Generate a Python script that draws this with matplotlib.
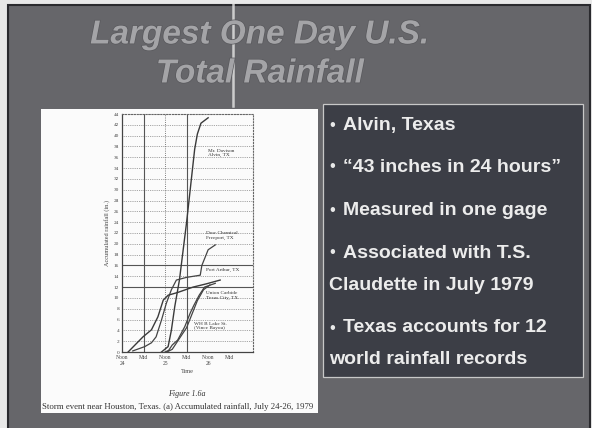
import matplotlib.pyplot as plt
import matplotlib.patheffects as pe
from matplotlib.patches import Rectangle

# accumulated rainfall, hours after noon July 24 vs inches
alvin_h = [22, 25.7, 27.5, 29.4, 32, 36, 39, 40.5, 42, 44, 48]
alvin_in = [0, 1, 4, 8.4, 13.3, 24, 33, 37.5, 40.3, 42.3, 43.3]
dow_h = [6, 12.7, 16.4, 19, 22, 24.7, 27.5, 30.3, 36, 43.6, 44.5, 48, 52]
dow_in = [0.2, 1, 1.7, 2.8, 5.9, 9, 11.5, 13.3, 13.8, 14.2, 16, 18.9, 19.8]
port_h = [3.4, 11.7, 16.4, 20, 23, 25.7, 31, 39.6, 47, 54.7]
port_in = [0, 2.8, 4.1, 6.5, 9.6, 10.5, 11, 12, 12.6, 13.3]
union_h = [24, 26, 28, 31, 35, 38, 40, 43, 46, 52]
union_in = [0, 0.3, 1.3, 2.2, 4.7, 7.2, 8.6, 10.5, 12, 12.7]
lake_h = [25, 28, 30, 33, 36, 39, 42, 45.4, 49]
lake_in = [0, 0.5, 1.5, 3, 4.5, 7, 9.5, 11.5, 12.4]

station_names = ["Mr. Davison\nAlvin, TX", "Dow Chemical\nFreeport, TX", "Port Arthur, TX",
                 "Union Carbide\nTexas City, TX", "WH B Lake St.\n(Vince Bayou)"]
time_ticks = [0, 12, 24, 36, 48, 60]
time_labels = ["Noon\n24", "Mid", "Noon\n25", "Mid", "Noon\n26", "Mid"]
rain_ticks = list(range(0, 46, 2))

title_lines = ["Largest One Day U.S.", "Total Rainfall"]
bullets = [("\u2022", "Alvin, Texas"),
           ("\u2022", "\u201c43 inches in 24 hours\u201d"),
           ("\u2022", "Measured in one gage"),
           ("\u2022", "Associated with T.S."),
           ("", "Claudette in July 1979"),
           ("\u2022", "Texas accounts for 12"),
           ("", "world rainfall records")]

W, H = 592, 428
fig = plt.figure(figsize=(W / 100, H / 100), dpi=100)
fig.patch.set_facecolor("#e8e8e8")

# slide layer in pixel coordinates
bg = fig.add_axes([0, 0, 1, 1])
bg.set_xlim(0, W)
bg.set_ylim(H, 0)
bg.axis("off")

bg.add_patch(Rectangle((8, 5), 582, 425, facecolor="#66666a", edgecolor="#2a2a2e", lw=1.5))
bg.add_patch(Rectangle((41, 109), 277, 304, facecolor="#fbfbfb", edgecolor="none"))
bg.add_patch(Rectangle((323, 104), 260, 273, facecolor="#3c3e46", edgecolor="#c8c8c8", lw=0.9))
bg.plot([233, 233], [0, 106], color="#e6e6e6", lw=1.8, alpha=0.8)

for txt, yy in zip(title_lines, [35, 74]):
    bg.text(260, yy, txt, ha="center", va="center", fontsize=24, fontweight="bold",
            style="italic", family="Liberation Sans", color="#a4a4a7",
            path_effects=[pe.withStroke(linewidth=1.0, foreground="#58585c")])

ys = [125, 167, 210, 253, 285, 328, 360]
for (b, txt), yy in zip(bullets, ys):
    if b:
        bg.text(332, yy, b, ha="center", va="center", fontsize=12, color="#e8e8e8",
                family="Liberation Sans")
        x0 = 343
    else:
        x0 = 329
    bg.text(x0, yy, txt, ha="left", va="center", fontsize=14, fontweight="bold",
            color="#ececec", family="Liberation Sans")

bg.text(187, 394, "Figure 1.6a", ha="center", va="center", fontsize=5.8, style="italic",
        family="Liberation Serif", color="#333333")
bg.text(178, 407, "Storm event near Houston, Texas. (a) Accumulated rainfall, July 24-26, 1979",
        ha="center", va="center", fontsize=6.3, family="Liberation Serif", color="#333333")

# rainfall chart
ax = fig.add_axes([122 / W, 1 - 352 / H, 131 / W, 238 / H])
ax.set_facecolor("#fbfbfb")
ax.set_xlim(0, 73)
ax.set_ylim(0, 44)
ax.set_xticks(time_ticks)
ax.set_xticklabels(time_labels, fontsize=4, family="Liberation Serif", color="#444444",
                   linespacing=1.4)
ax.set_yticks(rain_ticks)
ax.set_yticklabels([str(v) for v in rain_ticks], fontsize=3.8, family="Liberation Serif",
                   color="#444444")
ax.tick_params(length=0, pad=2)
for v in rain_ticks[1:]:
    solid = v in (12, 16)
    ax.axhline(v, color="#555555" if solid else "#888888", lw=0.8 if solid else 0.6,
               ls="-" if solid else (0, (1, 1.2)))
for t, st in zip([12, 24, 36], ["-", ":", "-"]):
    ax.axvline(t, color="#555555", lw=0.8 if st == "-" else 0.6, ls=st)
for s in ["top", "right"]:
    ax.spines[s].set_linestyle(":")
    ax.spines[s].set_color("#666666")
for s in ["left", "bottom"]:
    ax.spines[s].set_color("#444444")
    ax.spines[s].set_linewidth(0.9)

ax.plot(alvin_h, alvin_in, color="#3a3a3a", lw=1.0)
ax.plot(dow_h, dow_in, color="#444444", lw=0.9)
ax.plot(port_h, port_in, color="#3a3a3a", lw=1.0)
ax.plot(union_h, union_in, color="#444444", lw=0.9)
ax.plot(lake_h, lake_in, color="#444444", lw=0.9)

label_pos = [(48, 36.8), (47, 21.6), (47, 15.2), (47, 10.4), (40, 4.8)]
for name, (lx, ly) in zip(station_names, label_pos):
    ax.text(lx, ly, name, fontsize=3.8, family="Liberation Serif", color="#333333",
            va="center", ha="left", linespacing=1.2)

ax.set_xlabel("Time", fontsize=4.5, family="Liberation Serif", color="#444444", labelpad=2)
ax.set_ylabel("Accumulated rainfall (in.)", fontsize=4.5, family="Liberation Serif",
              color="#444444", labelpad=3)

fig.savefig("out.png", dpi=100, facecolor=fig.get_facecolor())
